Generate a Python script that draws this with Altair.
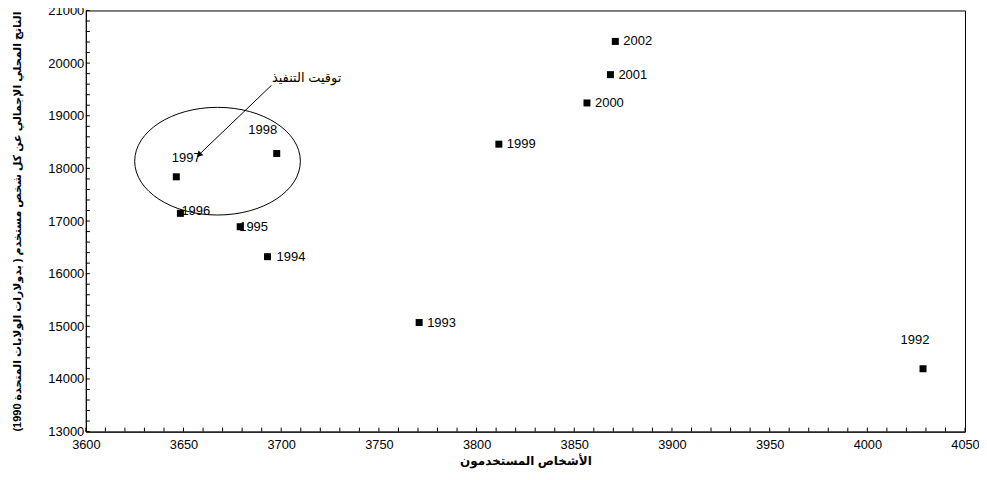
import altair as alt
import pandas as pd

# ---- data ----
years = ["1992", "1993", "1994", "1995", "1996", "1997", "1998", "1999", "2000", "2001", "2002"]
persons = [4028.5, 3770.6, 3693.0, 3679.0, 3648.4, 3646.3, 3697.7, 3811.4, 3856.5, 3868.5, 3871.0]
gdp = [14194, 15072, 16323, 16892, 17146, 17840, 18283, 18460, 19243, 19781, 20412]

x_ticks = [3600, 3650, 3700, 3750, 3800, 3850, 3900, 3950, 4000, 4050]
y_ticks = [13000, 14000, 15000, 16000, 17000, 18000, 19000, 20000, 21000]
x_minor = list(range(3600, 4051, 10))
y_minor = list(range(13000, 21001, 200))

x_title = "الأشخاص المستخدمون"
y_title = "الناتج المحلي الإجمالي عن كل شخص مستخدم ( بدولارات الولايات المتحدة 1990)\u200F"

note_text = ["توقيت التنفيذ"]
note_x = [3713.0]
note_y = [19711]
arrow_from = [3695.0, 19578]
arrow_to = [3658.2, 18270]
ellipse_center = [3667.4, 18137]

# label offsets (style)
label_offsets = {
    "1992": (-8, -29, "center"),
    "1993": (8, 0, "left"),
    "1994": (9, 0, "left"),
    "1995": (-1, 0, "left"),
    "1996": (1, -2, "left"),
    "1997": (10, -19, "center"),
    "1998": (-14, -24, "center"),
    "1999": (8, 0, "left"),
    "2000": (8, 0, "left"),
    "2001": (8, 0, "left"),
    "2002": (8, 0, "left"),
}

W, H = 881, 422
FONT = "Liberation Sans, Arial, DejaVu Sans"

xs = alt.Scale(domain=[3600, 4050], nice=False, zero=False)
ys = alt.Scale(domain=[13000, 21000], nice=False, zero=False)

xaxis = alt.Axis(values=x_ticks, title=x_title, format="d", grid=False, tickSize=0,
                 labelPadding=7, titlePadding=4, labelFontSize=12.8, titleFontSize=12,
                 titleFontWeight="bold", labelColor="black", titleColor="black",
                 domainColor="black", labelFont=FONT, titleFont=FONT, labelFlush=False)
yaxis = alt.Axis(values=y_ticks, title=y_title, format="d", grid=False, tickSize=0,
                 labelPadding=2, titlePadding=25, labelFontSize=13, titleFontSize=11,
                 titleFontWeight="bold", labelColor="black", titleColor="black",
                 domainColor="black", labelFont=FONT, titleFont=FONT, labelFlush=False)

df = pd.DataFrame({"year": years, "x": persons, "y": gdp})

X = alt.X("x:Q", scale=xs, axis=xaxis)
Y = alt.Y("y:Q", scale=ys, axis=yaxis)

layers = []

# minor/major ticks drawn inside the frame
xm = pd.DataFrame({"x": x_minor})
layers.append(alt.Chart(xm).mark_rule(color="black", strokeWidth=1).encode(
    x=X, y=alt.value(H), y2=alt.value(H - 4)))
ym = pd.DataFrame({"y": y_minor})
layers.append(alt.Chart(ym).mark_rule(color="black", strokeWidth=1).encode(
    y=Y, x=alt.value(0), x2=alt.value(4)))

# year labels
for yr, xv, yv in zip(years, persons, gdp):
    dx, dy, al = label_offsets[yr]
    d = pd.DataFrame({"x": [xv], "y": [yv], "year": [yr]})
    layers.append(alt.Chart(d).mark_text(dx=dx, dy=dy, align=al, baseline="middle",
                                         fontSize=13, font=FONT, color="black").encode(
        x=X, y=Y, text="year:N"))

# points
layers.append(alt.Chart(df).mark_point(shape="square", filled=True, size=49,
                                       color="black", opacity=1).encode(x=X, y=Y))

# ellipse annotation
ell_path = ("M 1 0 C 1 0.359 0.552 0.65 0 0.65 C -0.552 0.65 -1 0.359 -1 0 "
            "C -1 -0.359 -0.552 -0.65 0 -0.65 C 0.552 -0.65 1 -0.359 1 0 Z")
ed = pd.DataFrame({"x": [ellipse_center[0]], "y": [ellipse_center[1]]})
layers.append(alt.Chart(ed).mark_point(shape=ell_path, size=27556, filled=False,
                                       color="black", strokeWidth=1, opacity=1).encode(x=X, y=Y))

# arrow
ad = pd.DataFrame({"x": [arrow_from[0]], "y": [arrow_from[1]],
                   "x2": [arrow_to[0]], "y2": [arrow_to[1]]})
layers.append(alt.Chart(ad).mark_rule(color="black", strokeWidth=1).encode(
    x=X, y=Y, x2="x2:Q", y2="y2:Q"))
hd = pd.DataFrame({"x": [arrow_to[0]], "y": [arrow_to[1]]})
layers.append(alt.Chart(hd).mark_point(shape="triangle", angle=225, size=45, filled=True,
                                       color="black", opacity=1).encode(x=X, y=Y))

# note text
nd = pd.DataFrame({"x": note_x, "y": note_y, "t": note_text})
layers.append(alt.Chart(nd).mark_text(align="center", baseline="middle", fontSize=13,
                                      font=FONT, color="black").encode(x=X, y=Y, text="t:N"))

chart = alt.layer(*layers).properties(
    width=W, height=H,
    autosize=alt.AutoSizeParams(type="none"),
    padding={"left": 78, "top": 2, "right": 14, "bottom": 38},
    background="white",
).configure_view(stroke="black", strokeWidth=1)

chart.save("out.html", embed_options={"renderer": "svg", "actions": False})
